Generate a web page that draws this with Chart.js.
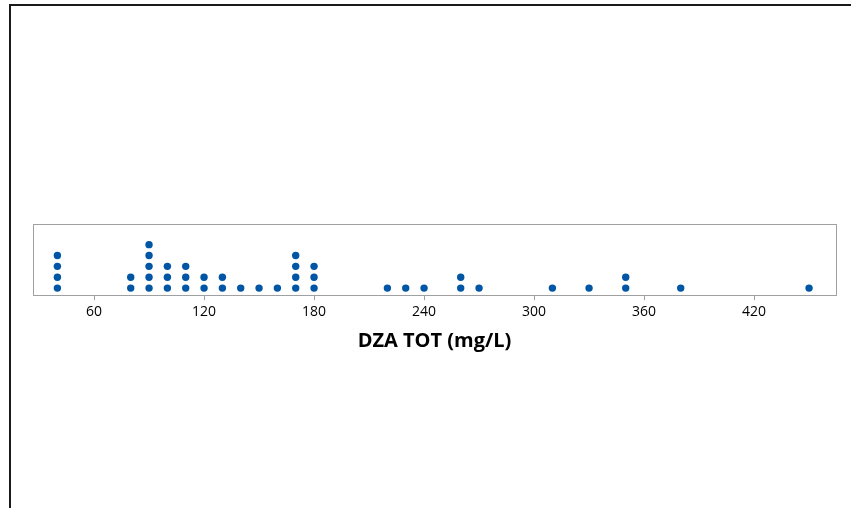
<!DOCTYPE html>
<html>
<head>
<meta charset="utf-8">
<script src="https://cdn.jsdelivr.net/npm/chart.js@4/dist/chart.umd.min.js"></script>
<style>
html,body{margin:0;padding:0;background:#fff;}
#wrap{position:relative;width:851px;height:508px;}
</style>
</head>
<body>
<div id="wrap"><canvas id="c" width="851" height="508"></canvas></div>
<script>
const values = [40,80,90,100,110,120,130,140,150,160,170,180,220,230,240,260,270,310,330,350,380,450];
const counts = [4,2,5,3,3,2,2,1,1,1,4,3,1,1,1,2,1,1,1,2,1,1];
const tickValues = [60,120,180,240,300,360,420];
const axisTitle = 'DZA TOT (mg/L)';

const points = [];
values.forEach((v,i)=>{ for(let k=1;k<=counts[i];k++) points.push({x:v,y:k}); });

const framePlugin = {
  id:'frame',
  beforeDraw(chart){
    const ctx = chart.ctx;
    ctx.save();
    ctx.fillStyle='#fff';
    ctx.fillRect(0,0,chart.width,chart.height);
    ctx.strokeStyle='#1a1a1a';
    ctx.lineWidth=2;
    ctx.beginPath();
    ctx.moveTo(10,chart.height);
    ctx.lineTo(10,5);
    ctx.lineTo(chart.width,5);
    ctx.stroke();
    ctx.restore();
  },
  afterDatasetsDraw(chart){
    const a = chart.chartArea, ctx = chart.ctx;
    ctx.save();
    ctx.strokeStyle='#a0a0a0';
    ctx.lineWidth=1;
    ctx.strokeRect(Math.round(a.left)+0.5, Math.round(a.top)+0.5, Math.round(a.right-a.left), Math.round(a.bottom-a.top));
    ctx.restore();
  }
};

new Chart(document.getElementById('c'), {
  type:'scatter',
  data:{datasets:[{data:points, backgroundColor:'#0055a5', borderColor:'#0055a5', pointRadius:3.7, pointHoverRadius:3.7, borderWidth:0}]},
  plugins:[framePlugin],
  options:{
    responsive:false, animation:false,
    layout:{padding:{left:33, right:15, top:224, bottom:151}},
    plugins:{legend:{display:false}, tooltip:{enabled:false}},
    scales:{
      x:{
        type:'linear', min:26.7, max:464.7,
        afterBuildTicks(s){ s.ticks = tickValues.map(v=>({value:v})); },
        grid:{display:true, drawOnChartArea:false, tickLength:5, color:'#a0a0a0'},
        border:{display:false},
        ticks:{padding:3, color:'#000', font:{family:'Open Sans', size:14}},
        title:{display:true, text:axisTitle, color:'#000', font:{family:'Open Sans', size:20, weight:'bold'}, padding:{top:6, bottom:4}}
      },
      y:{
        type:'linear', min:0.344, max:6.9, display:false
      }
    }
  }
});
</script>
</body>
</html>
